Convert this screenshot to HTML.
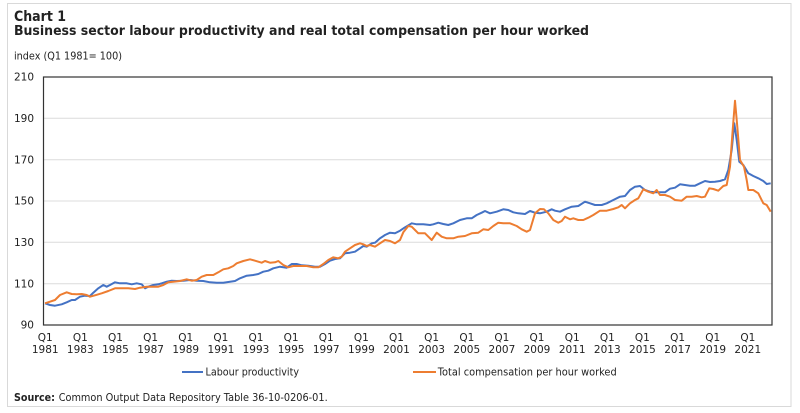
<!DOCTYPE html>
<html>
<head>
<meta charset="utf-8">
<style>
html,body{margin:0;padding:0;background:#fff;}
svg{display:block;}
text{font-family:"DejaVu Sans","Liberation Sans",sans-serif;fill:#222;}
</style>
</head>
<body>
<svg width="800" height="413" viewBox="0 0 800 413" xmlns="http://www.w3.org/2000/svg">
<rect x="0" y="0" width="800" height="413" fill="#fff"/>
<rect x="7.5" y="3.5" width="783.5" height="403" fill="#fff" stroke="#d9d9d9" stroke-width="1"/>

<text x="14" y="21" font-size="14" font-weight="bold" textLength="52" lengthAdjust="spacingAndGlyphs">Chart 1</text>
<text x="14" y="35" font-size="13" font-weight="bold" textLength="575" lengthAdjust="spacingAndGlyphs">Business sector labour productivity and real total compensation per hour worked</text>
<text x="14" y="59.5" font-size="10.5" textLength="108" lengthAdjust="spacingAndGlyphs">index (Q1 1981= 100)</text>

<g stroke="#dcdcdc" stroke-width="1">
<line x1="43" y1="118.3" x2="772" y2="118.3"/>
<line x1="43" y1="159.7" x2="772" y2="159.7"/>
<line x1="43" y1="201" x2="772" y2="201"/>
<line x1="43" y1="242.3" x2="772" y2="242.3"/>
<line x1="43" y1="283.7" x2="772" y2="283.7"/>
</g>

<g font-size="10.5" text-anchor="end">
<text x="34" y="80.7">210</text>
<text x="34" y="122">190</text>
<text x="34" y="163.3">170</text>
<text x="34" y="204.7">150</text>
<text x="34" y="246">130</text>
<text x="34" y="287.3">110</text>
<text x="34" y="328.7">90</text>
</g>

<polyline fill="none" stroke="#4472C4" stroke-width="2" stroke-linejoin="round" points="45,303.3 50,305 55,305.7 61.7,304.3 66.7,302.3 71.7,300 75,300 80,296.7 85,295.7 90,296 93.3,292.7 98.3,288.3 103.3,285 106.7,286.7 110,285 115,282.3 120,283.3 126.7,283.3 131.7,284.3 136.7,283.3 141.7,284.3 145,288.3 148.3,286.7 153.3,285 158.3,284.3 161.7,283.3 166.7,281.7 171.7,280.7 176.7,281 183.3,280.7 190,280 196.7,280.7 203.3,281 210,282.3 216.7,282.7 223.3,282.7 230,281.7 235,281 240,278.3 246.7,275.7 253.3,275 258.3,274 263.3,271.7 268.3,270.7 273.3,268.3 280,266.7 286.7,267.7 291.7,264 296.7,264 301.7,265.3 308.3,265.7 315,266.7 320,266.7 325,264 330,260.7 335,259 340,258.3 345,253.3 350,252.7 355,251.7 360,248.3 363.3,246 366.7,246.7 371.7,243.3 375,242.7 380,238.3 385,235 390,232.7 395,233.3 400,230.7 405,227.3 411.7,223.3 416.7,224.3 423.3,224.3 430,225 433.3,224.3 438.3,222.7 443.3,224 448.3,225 453.3,223.3 460,220 466.7,218.3 471.7,218.3 476.7,215 481.7,212.7 485,211 490,213.3 496.7,211.7 503.3,209.3 508.3,210 513.3,212.3 518.3,213.3 525,214 530,211 535,212.7 540,213.3 546.7,211.7 551.7,209.3 555,210.7 560,211.7 565,209.3 571.7,206.7 578.3,206 585,201.7 590,203.3 595,205 601.7,205 606.7,203.3 613.3,200 620,196.7 625,196 630,190 635,186.7 640,186 645,190 650,191.7 655,192.3 660,192.3 665,192.3 670,188.7 675,187.7 680,184.3 685,185 690,185.7 695,185.7 700,183.3 705,181 710,182 715,181.7 720,181 725,179.3 728.3,170 731.7,150 734.3,123.3 736.7,140 739.3,161.7 743.3,165 748.3,173.3 753.3,176 758.3,178.3 763.3,181 766.7,184 770.7,183.3"/>

<polyline fill="none" stroke="#ED7D31" stroke-width="2" stroke-linejoin="round" points="45,303.3 50,301.7 55,300 60,295 66.7,292.3 71.7,294 76.7,294.3 81.7,294 86.7,295 90,296.7 95,295.3 101.7,293.3 108.3,291 115,288.3 121.7,288.3 128.3,288.3 135,289 140,287.7 146.7,286.7 153.3,286.7 158.3,286.7 163.3,285 168.3,282.3 173.3,281.7 180,281 186.7,279.3 191.7,280.7 196.7,280 201.7,276.7 206.7,275 213.3,275 218.3,272.3 223.3,269.3 228.3,268.3 233.3,266 236.7,263.3 243.3,261 250,259.3 255,260.7 261.7,262.7 265,261 270,262.7 275,262.3 278.3,261 283.3,265 288.3,267.3 293.3,266 300,266 306.7,266 313.3,267.3 318.3,267.3 323.3,264 328.3,260 333.3,257.3 338.3,258.3 341.7,256.7 345,251.7 350,248.3 355,245 360,243.3 363.3,244.3 366.7,246 370,245 375,246.7 380,243.3 385,240 390,241 395,243.3 400,240 403.3,232.3 408.3,226 411.7,226.7 415,230 418.3,233.3 425,233.3 431.7,240 436.7,232.7 441.7,236.7 446.7,238.3 453.3,238.3 458.3,236.7 465,236 471.7,233.3 478.3,232.7 483.3,229.3 488.3,230 493.3,226 498.3,222.7 503.3,223.3 510,223.3 516.7,226 521.7,229.3 526.7,231.7 530,230 535,213.3 540,209 544,209.3 548.3,213.3 553.3,220 558.3,222.7 561.7,221 565,216.7 570,219.3 573.3,218.3 578.3,220 583.3,220 588.3,217.7 593.3,215 600,210.7 606.7,210.7 613.3,209 618.3,207.3 621.7,205 625,208.3 630,203.3 635,200 638.3,198.3 643.3,189.3 648.3,191.7 653.3,193.3 656.7,190 660,195 665,195 670,196.7 675,200 681.7,200.7 686.7,196.7 691.7,196.7 696.7,196 701.7,197.3 705,196.7 709.3,188.3 713.3,189 718.3,190.7 723.3,186 726.7,185 730,166.7 732.7,130 735,100.7 737.3,126.7 740,160 744,166.7 746.7,180 748.3,190 753.3,190 758.3,193.3 763.3,203.3 766.7,205 770.7,211.7"/>

<rect x="43.5" y="77" width="728.5" height="248" fill="none" stroke="#333" stroke-width="1.2"/>

<g font-size="10.5" text-anchor="middle">
<text x="45.2" y="341">Q1</text><text x="45.2" y="353">1981</text>
<text x="80.3" y="341">Q1</text><text x="80.3" y="353">1983</text>
<text x="115.5" y="341">Q1</text><text x="115.5" y="353">1985</text>
<text x="150.6" y="341">Q1</text><text x="150.6" y="353">1987</text>
<text x="185.7" y="341">Q1</text><text x="185.7" y="353">1989</text>
<text x="220.9" y="341">Q1</text><text x="220.9" y="353">1991</text>
<text x="256" y="341">Q1</text><text x="256" y="353">1993</text>
<text x="291.1" y="341">Q1</text><text x="291.1" y="353">1995</text>
<text x="326.2" y="341">Q1</text><text x="326.2" y="353">1997</text>
<text x="361.4" y="341">Q1</text><text x="361.4" y="353">1999</text>
<text x="396.5" y="341">Q1</text><text x="396.5" y="353">2001</text>
<text x="431.6" y="341">Q1</text><text x="431.6" y="353">2003</text>
<text x="466.8" y="341">Q1</text><text x="466.8" y="353">2005</text>
<text x="501.9" y="341">Q1</text><text x="501.9" y="353">2007</text>
<text x="537" y="341">Q1</text><text x="537" y="353">2009</text>
<text x="572.2" y="341">Q1</text><text x="572.2" y="353">2011</text>
<text x="607.3" y="341">Q1</text><text x="607.3" y="353">2013</text>
<text x="642.4" y="341">Q1</text><text x="642.4" y="353">2015</text>
<text x="677.6" y="341">Q1</text><text x="677.6" y="353">2017</text>
<text x="712.7" y="341">Q1</text><text x="712.7" y="353">2019</text>
<text x="747.8" y="341">Q1</text><text x="747.8" y="353">2021</text>
</g>

<line x1="182" y1="372" x2="203" y2="372" stroke="#4472C4" stroke-width="2"/>
<text x="205.5" y="375.7" font-size="10.5" textLength="93.5" lengthAdjust="spacingAndGlyphs">Labour productivity</text>
<line x1="413" y1="372" x2="436" y2="372" stroke="#ED7D31" stroke-width="2"/>
<text x="437.7" y="375.7" font-size="10.5" textLength="179" lengthAdjust="spacingAndGlyphs">Total compensation per hour worked</text>

<text x="14" y="401" font-size="10.5" font-weight="bold" textLength="41" lengthAdjust="spacingAndGlyphs">Source:</text>
<text x="58.7" y="401" font-size="10.5" textLength="269" lengthAdjust="spacingAndGlyphs">Common Output Data Repository Table 36-10-0206-01.</text>
</svg>
</body>
</html>
